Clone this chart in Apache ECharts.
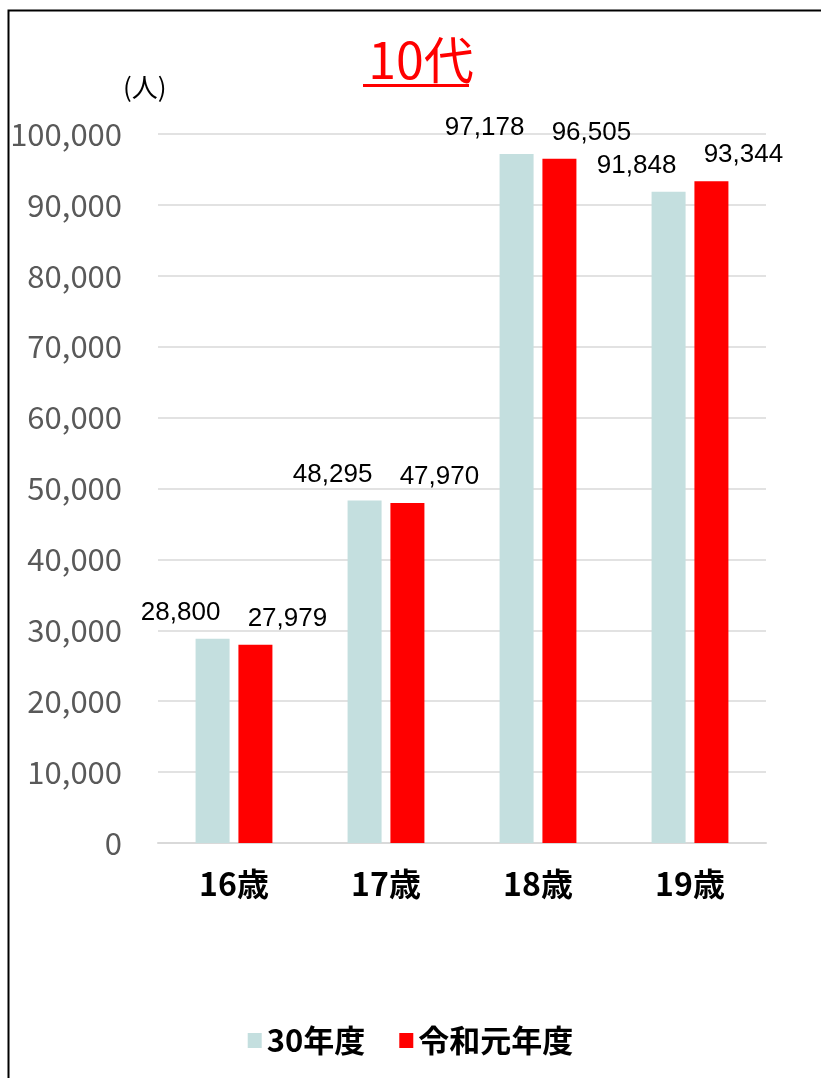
<!DOCTYPE html>
<html><head><meta charset="utf-8">
<script src="https://cdn.jsdelivr.net/npm/echarts@6/dist/echarts.min.js"></script>
<style>html,body{margin:0;padding:0;background:#fff}#c{width:821px;height:1078px}</style>
</head><body><div id="c"></div>
<script>
const categories = ['16歳', '17歳', '18歳', '19歳'];
const seriesNames = ['30年度', '令和元年度'];
const values30 = [28800, 48295, 97178, 91848];
const valuesR1 = [27979, 47970, 96505, 93344];
const yTicks = { min: 0, max: 100000, interval: 10000 };

const narrow = "'Liberation Sans Narrow', 'Arial Narrow', 'Noto Sans CJK JP', sans-serif";
const fmt = v => v.toLocaleString('en-US');

const chart = echarts.init(document.getElementById('c'));
chart.setOption({
  backgroundColor: '#fff',
  animation: false,
  title: {
    text: '10代', left: 416, top: 30, textAlign: 'center',
    textStyle: { color: '#ff0000', fontSize: 50, fontWeight: 'normal', fontFamily: narrow }
  },
  graphic: [
    { type: 'rect', left: 6, top: 8, shape: { width: 840, height: 1100 },
      style: { fill: 'none', stroke: '#000', lineWidth: 2 }, silent: true },
    { type: 'rect', left: 363, top: 84, shape: { width: 106, height: 3 },
      style: { fill: '#ff0000' }, silent: true },
    { type: 'text', left: 123, top: 74,
      style: { text: '(人)', fill: '#000', fontSize: 26, fontFamily: narrow } }
  ],
  legend: {
    bottom: 17, left: 'center', icon: 'rect',
    itemWidth: 14, itemHeight: 15, itemGap: 34,
    textStyle: { fontSize: 31, fontWeight: 'bold', color: '#000', fontFamily: narrow },
    data: seriesNames
  },
  grid: { left: 158, right: 55, top: 134, bottom: 235 },
  xAxis: {
    type: 'category', data: categories,
    axisLine: { lineStyle: { color: '#d9d9d9', width: 2 } },
    axisTick: { show: false },
    axisLabel: { margin: 25, fontSize: 32, fontWeight: 'bold', color: '#000', fontFamily: narrow }
  },
  yAxis: {
    type: 'value', min: yTicks.min, max: yTicks.max, interval: yTicks.interval,
    axisLine: { show: false }, axisTick: { show: false },
    splitLine: { lineStyle: { color: '#d9d9d9', width: 1.5 } },
    axisLabel: { margin: 36, fontSize: 31, color: '#595959', fontFamily: narrow, formatter: fmt }
  },
  series: [
    { name: seriesNames[0], type: 'bar', data: values30, barWidth: 34, barGap: '26%',
      itemStyle: { color: '#c4dfdf' },
      label: { show: true, position: 'top', offset: [-32, -8], fontSize: 26, color: '#000',
        fontFamily: "'Liberation Sans', Arial, sans-serif", formatter: p => fmt(p.value) } },
    { name: seriesNames[1], type: 'bar', data: valuesR1, barWidth: 34,
      itemStyle: { color: '#ff0000' },
      label: { show: true, position: 'top', offset: [32, -8], fontSize: 26, color: '#000',
        fontFamily: "'Liberation Sans', Arial, sans-serif", formatter: p => fmt(p.value) } }
  ]
});
</script></body></html>
